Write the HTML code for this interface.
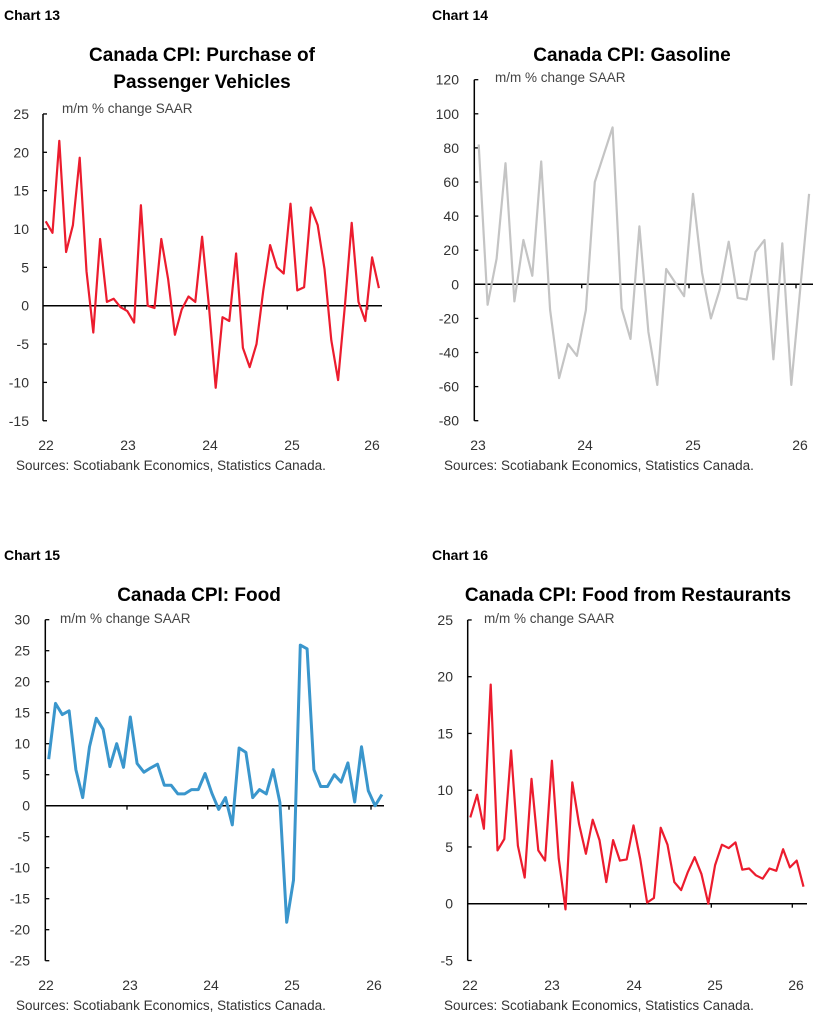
<!DOCTYPE html>
<html><head><meta charset="utf-8">
<style>
body{margin:0;background:#fff;}
svg{display:block;font-family:"Liberation Sans",Arial,sans-serif;}
.ct{font-weight:bold;font-size:14px;fill:#000;}
.tt{font-weight:bold;font-size:19px;fill:#000;text-anchor:middle;}
.un{font-size:13.5px;fill:#444;}
.yl{font-size:14px;fill:#333;text-anchor:end;}
.xl{font-size:14px;fill:#333;text-anchor:middle;}
.src{font-size:13.5px;fill:#333;}
</style></head><body>
<svg id="s" width="828" height="1023" viewBox="0 0 828 1023" xmlns="http://www.w3.org/2000/svg">
<text class="ct" x="4" y="20">Chart 13</text>
<text class="ct" x="432" y="20">Chart 14</text>
<text class="ct" x="4" y="560">Chart 15</text>
<text class="ct" x="432" y="560">Chart 16</text>
<text class="tt" x="202" y="61">Canada CPI: Purchase of</text>
<text class="tt" x="202" y="88">Passenger Vehicles</text>
<text class="tt" x="632" y="61">Canada CPI: Gasoline</text>
<text class="tt" x="199" y="601">Canada CPI: Food</text>
<text class="tt" x="628" y="601">Canada CPI: Food from Restaurants</text>
<text class="un" x="62" y="113">m/m % change SAAR</text>
<text class="un" x="495" y="82">m/m % change SAAR</text>
<text class="un" x="60" y="623">m/m % change SAAR</text>
<text class="un" x="484" y="623">m/m % change SAAR</text>
<text class="src" x="16" y="470">Sources: Scotiabank Economics, Statistics Canada.</text>
<text class="src" x="444" y="470">Sources: Scotiabank Economics, Statistics Canada.</text>
<text class="src" x="16" y="1010">Sources: Scotiabank Economics, Statistics Canada.</text>
<text class="src" x="444" y="1010">Sources: Scotiabank Economics, Statistics Canada.</text>
</svg>
<script>
var NS="http://www.w3.org/2000/svg",S=document.getElementById("s");
function el(t,a,txt){var e=document.createElementNS(NS,t);for(var k in a)e.setAttribute(k,a[k]);if(txt!==undefined)e.textContent=txt;S.appendChild(e);return e;}
function chart(c){
  var ax=c.ax,y0=c.zero,ppu=c.ppu;
  function Y(v){return y0-v*ppu;}
  // y ticks & labels
  for(var v=c.ymin;v<=c.ymax;v+=c.step){
    var y=Y(v);
    el("line",{x1:ax,x2:ax+4,y1:y,y2:y,stroke:"#000","stroke-width":1.3});
    el("text",{"class":"yl",x:c.lx,y:y+5},String(v));
  }
  el("line",{x1:ax,x2:ax,y1:Y(c.ymax),y2:Y(c.ymin),stroke:"#000","stroke-width":1.5});
  el("line",{x1:ax,x2:c.zx,y1:y0,y2:y0,stroke:"#000","stroke-width":1.5});
  for(var i=0;i<c.ticks.length;i++){
    el("line",{x1:c.ticks[i],x2:c.ticks[i],y1:y0,y2:y0+4,stroke:"#000","stroke-width":1.3});
  }
  for(var i=0;i<c.xlab.length;i++){
    el("text",{"class":"xl",x:c.xlab[i][0],y:c.xly},c.xlab[i][1]);
  }
  var p=[];
  for(var i=0;i<c.d.length;i++)p.push((c.x0+c.dx*i).toFixed(1)+","+Y(c.d[i]).toFixed(1));
  el("polyline",{points:p.join(" "),fill:"none",stroke:c.col,"stroke-width":c.w,"stroke-linejoin":"round"});
}
chart({ax:43,zero:305.7,ppu:7.67,ymin:-15,ymax:25,step:5,lx:29,zx:382,
 ticks:[125,206.7,287.3,367.7],xlab:[[46,"22"],[128,"23"],[210,"24"],[292,"25"],[372,"26"]],xly:450,
 x0:45.7,dx:6.8,col:"#ec1c2e",w:2.2,
 d:[11,9.5,21.5,7,10.5,19.3,4.5,-3.5,8.7,0.5,0.9,-0.2,-0.7,-2.2,13.1,0,-0.3,8.7,3.5,-3.8,-0.5,1.2,0.5,9,0,-10.7,-1.5,-2,6.8,-5.5,-8,-5,2,7.9,5,4.2,13.3,2,2.4,12.8,10.5,4.8,-4.5,-9.7,0,10.8,0.5,-2,6.3,2.3]});
chart({ax:474.3,zero:284.3,ppu:1.705,ymin:-80,ymax:120,step:20,lx:459,zx:813,
 ticks:[581.7,689,796],xlab:[[478,"23"],[585,"24"],[693,"25"],[800,"26"]],xly:450,
 x0:478.7,dx:8.93,col:"#c4c4c4",w:2.2,
 d:[82,-12,15,71,-10,26,5,72,-15,-55,-35,-42,-15,60,76,92,-14,-32,34,-28,-59,9,1,-7,53,7,-20,-3,25,-8,-9,19,26,-44,24,-59,-3,53]});
chart({ax:45.3,zero:805.7,ppu:6.2,ymin:-25,ymax:30,step:5,lx:30,zx:384,
 ticks:[127,207.7,289,371],xlab:[[46,"22"],[130,"23"],[211,"24"],[292,"25"],[374,"26"]],xly:990,
 x0:48.7,dx:6.8,col:"#3a96cc",w:3,
 d:[7.5,16.5,14.7,15.3,5.8,1.3,9.5,14.1,12.3,6.3,10,6.2,14.3,6.8,5.4,6.1,6.7,3.3,3.3,1.9,1.9,2.6,2.6,5.2,2,-0.6,1.3,-3.1,9.3,8.6,1.3,2.6,1.9,5.8,0.5,-18.8,-12,25.9,25.3,5.8,3.1,3.1,5,3.8,6.9,0.6,9.5,2.4,0,1.8]});
chart({ax:467.7,zero:903.7,ppu:11.35,ymin:-5,ymax:25,step:5,lx:453,zx:807,
 ticks:[548.7,630.3,711.3,792.3],xlab:[[470,"22"],[552,"23"],[634,"24"],[715,"25"],[796,"26"]],xly:990,
 x0:470.3,dx:6.8,col:"#ec1c2e",w:2.2,
 d:[7.6,9.6,6.6,19.3,4.7,5.7,13.5,5.1,2.3,11,4.7,3.8,12.6,4,-0.5,10.7,7,4.4,7.4,5.6,1.9,5.6,3.8,3.9,6.9,3.9,0.1,0.5,6.7,5.2,1.9,1.2,2.8,4.1,2.6,0,3.4,5.2,4.9,5.4,3.0,3.1,2.5,2.2,3.1,2.9,4.8,3.2,3.8,1.5]});
</script>
</body></html>
